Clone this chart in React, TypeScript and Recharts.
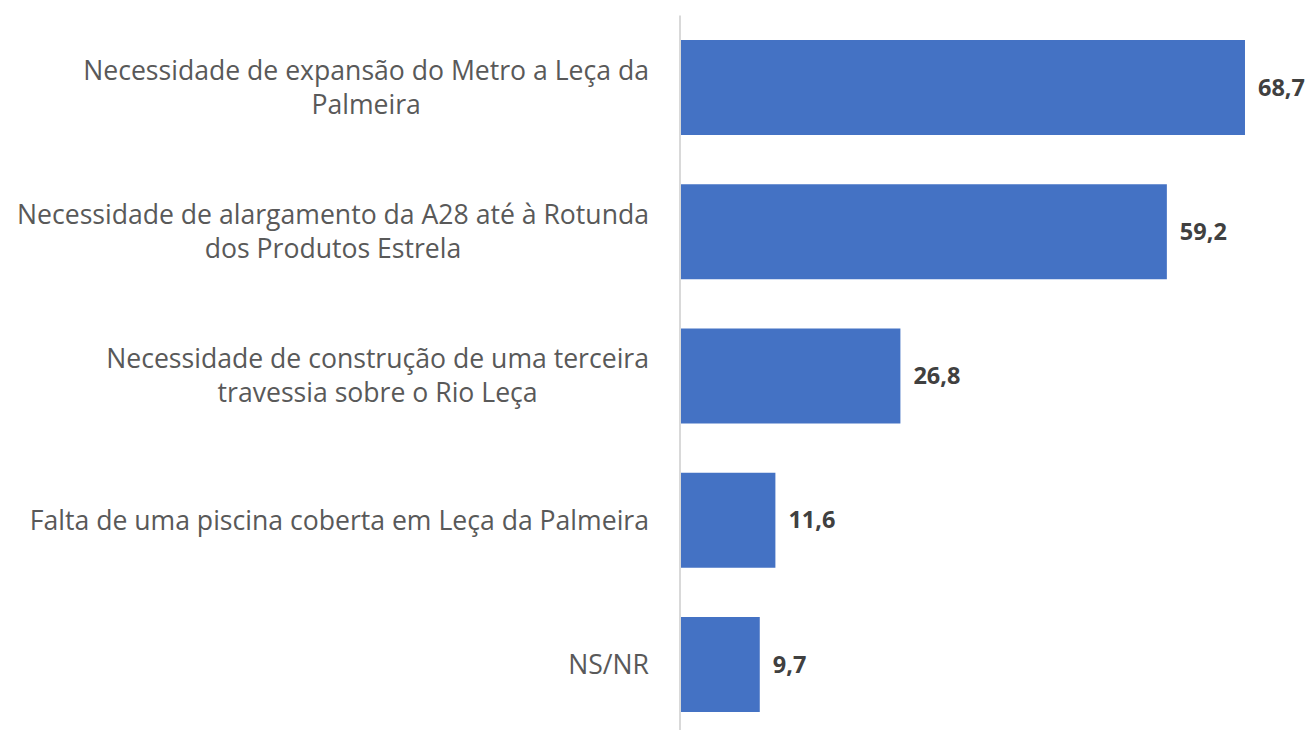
import React from 'react';
import { BarChart, Bar, XAxis, YAxis, LabelList } from 'recharts';

const categories: string[][] = [
  ['Necessidade de expansão do Metro a Leça da', 'Palmeira'],
  ['Necessidade de alargamento da A28 até à Rotunda', 'dos Produtos Estrela'],
  ['Necessidade de construção de uma terceira', 'travessia sobre o Rio Leça'],
  ['Falta de uma piscina coberta em Leça da Palmeira'],
  ['NS/NR'],
];
const values: number[] = [68.7, 59.2, 26.8, 11.6, 9.7];

const data = categories.map((lines, i) => ({ name: lines.join('\n'), value: values[i] }));

const LABEL_FONT = '26.6px "Open Sans"';
let ctx: CanvasRenderingContext2D | null = null;
const measure = (s: string) => {
  if (!ctx) ctx = document.createElement('canvas').getContext('2d');
  if (!ctx) return s.length * 14;
  ctx.font = LABEL_FONT;
  return ctx.measureText(s).width;
};

const CategoryTick = (props: any) => {
  const { x, y, payload } = props;
  const lines: string[] = String(payload.value).split('\n');
  const maxW = Math.max(...lines.map(measure));
  const right = x - 23;
  const cx = right - maxW / 2;
  const lh = 34;
  const y0 = y - ((lines.length - 1) * lh) / 2;
  return (
    <text
      textAnchor="middle"
      fill="#595959"
      style={{ font: LABEL_FONT }}
      fontFamily='"Open Sans"'
      fontSize={26.6}
    >
      {lines.map((l, i) => (
        <tspan key={i} x={cx} y={y0 + i * lh} dy="0.35em">
          {l}
        </tspan>
      ))}
    </text>
  );
};

export default function App() {
  return (
    <div style={{ position: 'absolute', left: 0, top: 0, width: 1308, height: 730, overflow: 'hidden', background: '#fff' }}>
      <BarChart
        width={1308}
        height={745}
        data={data}
        layout="vertical"
        margin={{ top: 15.4, right: 11.2, bottom: 8.4, left: 0 }}
        barCategoryGap="17%"
      >
        <XAxis type="number" domain={[0, 75]} hide />
        <YAxis
          type="category"
          dataKey="name"
          width={680}
          axisLine={{ stroke: '#d9d9d9', strokeWidth: 2 }}
          tickLine={false}
          tick={<CategoryTick />}
          interval={0}
        />
        <Bar dataKey="value" fill="#4472c4" isAnimationActive={false}>
          <LabelList
            dataKey="value"
            position="right"
            offset={13}
            formatter={(v: any) => String(v).replace('.', ',')}
            style={{ fontFamily: '"Open Sans"', fontWeight: 700, fontSize: 23.5, fill: '#404040' }}
          />
        </Bar>
      </BarChart>
    </div>
  );
}
